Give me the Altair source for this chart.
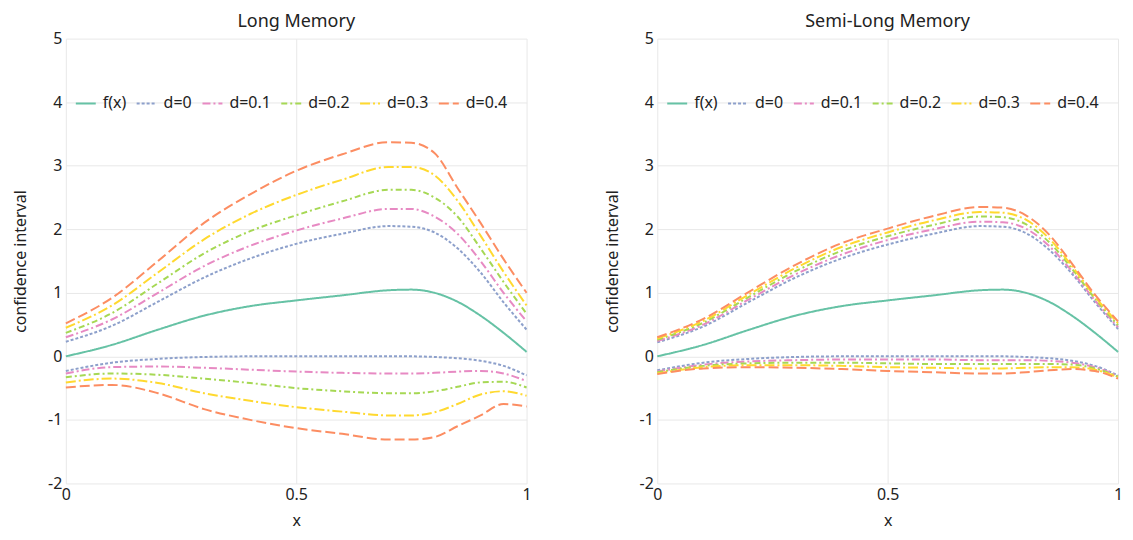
import altair as alt
import pandas as pd

xs = [0, 0.1, 0.2, 0.3, 0.4, 0.5, 0.6, 0.7, 0.75, 0.8, 0.85, 0.9, 0.95, 1.0]
f_x = [0, 0.18, 0.42, 0.64, 0.79, 0.88, 0.96, 1.04, 1.05, 1.0, 0.86, 0.64, 0.37, 0.07]

series_names = ["f(x)", "d=0", "d=0.1", "d=0.2", "d=0.3", "d=0.4"]
colors = ["#66c2a5", "#8da0cb", "#e78ac3", "#a6d854", "#ffd92f", "#fc8d62"]

# Long memory bounds
long_up_d0 = [0.23, 0.48, 0.86, 1.24, 1.54, 1.77, 1.93, 2.05, 2.04, 1.95, 1.70, 1.32, 0.85, 0.42]
long_up_d1 = [0.30, 0.58, 1.00, 1.42, 1.74, 1.98, 2.17, 2.32, 2.32, 2.20, 1.93, 1.50, 1.00, 0.55]
long_up_d2 = [0.37, 0.68, 1.15, 1.62, 1.97, 2.22, 2.44, 2.62, 2.62, 2.50, 2.20, 1.70, 1.17, 0.67]
long_up_d3 = [0.45, 0.80, 1.32, 1.84, 2.24, 2.54, 2.78, 2.98, 2.98, 2.85, 2.45, 1.90, 1.33, 0.80]
long_up_d4 = [0.52, 0.92, 1.50, 2.10, 2.55, 2.92, 3.18, 3.37, 3.36, 3.20, 2.65, 2.10, 1.53, 1.00]

long_lo_d0 = [-0.23, -0.10, -0.04, -0.01, 0, 0, 0, 0, 0, -0.01, -0.03, -0.07, -0.15, -0.30]
long_lo_d1 = [-0.27, -0.17, -0.16, -0.18, -0.21, -0.24, -0.26, -0.27, -0.27, -0.26, -0.24, -0.23, -0.27, -0.39]
long_lo_d2 = [-0.33, -0.27, -0.29, -0.35, -0.42, -0.50, -0.55, -0.58, -0.58, -0.55, -0.48, -0.41, -0.40, -0.49]
long_lo_d3 = [-0.41, -0.35, -0.42, -0.58, -0.70, -0.80, -0.87, -0.93, -0.93, -0.88, -0.75, -0.60, -0.55, -0.62]
long_lo_d4 = [-0.49, -0.45, -0.58, -0.83, -1.00, -1.13, -1.22, -1.31, -1.31, -1.27, -1.10, -0.93, -0.75, -0.79]

# Semi-long memory bounds
semi_up_d0 = [0.22, 0.47, 0.86, 1.24, 1.54, 1.76, 1.93, 2.05, 2.04, 1.94, 1.68, 1.30, 0.85, 0.43]
semi_up_d1 = [0.24, 0.50, 0.90, 1.29, 1.60, 1.83, 2.00, 2.12, 2.11, 2.01, 1.74, 1.34, 0.88, 0.46]
semi_up_d2 = [0.26, 0.53, 0.94, 1.34, 1.66, 1.89, 2.07, 2.20, 2.19, 2.08, 1.80, 1.38, 0.91, 0.49]
semi_up_d3 = [0.28, 0.56, 0.98, 1.39, 1.72, 1.95, 2.14, 2.27, 2.26, 2.15, 1.86, 1.42, 0.94, 0.52]
semi_up_d4 = [0.30, 0.59, 1.02, 1.44, 1.78, 2.01, 2.21, 2.35, 2.34, 2.22, 1.92, 1.46, 0.97, 0.55]

semi_lo_d0 = [-0.22, -0.10, -0.04, -0.01, 0, 0, 0, 0, 0, -0.01, -0.03, -0.07, -0.15, -0.30]
semi_lo_d1 = [-0.24, -0.13, -0.08, -0.06, -0.05, -0.05, -0.05, -0.06, -0.06, -0.06, -0.07, -0.10, -0.17, -0.31]
semi_lo_d2 = [-0.25, -0.15, -0.11, -0.10, -0.10, -0.11, -0.12, -0.12, -0.12, -0.12, -0.12, -0.13, -0.19, -0.32]
semi_lo_d3 = [-0.27, -0.17, -0.14, -0.14, -0.15, -0.17, -0.18, -0.19, -0.19, -0.18, -0.17, -0.17, -0.21, -0.33]
semi_lo_d4 = [-0.28, -0.19, -0.17, -0.18, -0.20, -0.23, -0.25, -0.27, -0.27, -0.25, -0.22, -0.20, -0.23, -0.35]

dashes = [[1, 0], [3, 2], [8, 3, 2, 3], [6, 3, 2, 3], [10, 3, 2, 3], [10, 4]]

FONT = "Noto Sans"
LABEL_EXPR = "datum.value < 0 ? '-' + format(-datum.value, '~g') : format(datum.value, '~g')"


def build_df(ups, los):
    rows = []
    for x, v in zip(xs, f_x):
        rows.append({"x": x, "v": v, "series": "f(x)", "line": "f"})
    for name, up, lo in zip(series_names[1:], ups, los):
        for x, v in zip(xs, up):
            rows.append({"x": x, "v": v, "series": name, "line": name + "_up"})
        for x, v in zip(xs, lo):
            rows.append({"x": x, "v": v, "series": name, "line": name + "_lo"})
    return pd.DataFrame(rows)


def legend():
    return alt.Legend(
        title=None, orient="none", direction="horizontal", legendX=9, legendY=54,
        symbolType="stroke", symbolSize=400, symbolStrokeWidth=2,
        labelFont=FONT, labelFontSize=16, labelColor="#222", labelOffset=6,
        columnPadding=6, padding=0,
    )


def panel(title, ups, los):
    df = build_df(ups, los)
    return alt.Chart(df).mark_line(interpolate="monotone", strokeWidth=2).encode(
        x=alt.X("x:Q", scale=alt.Scale(domain=[0, 1], nice=False),
                axis=alt.Axis(values=[0, 0.5, 1], title="x", labelFlush=False,
                              labelExpr=LABEL_EXPR, titlePadding=10, labelPadding=3)),
        y=alt.Y("v:Q", scale=alt.Scale(domain=[-2, 5], nice=False),
                axis=alt.Axis(values=[-2, -1, 0, 1, 2, 3, 4, 5], title="confidence interval",
                              labelFlush=False, labelExpr=LABEL_EXPR, titlePadding=19,
                              labelPadding=4)),
        color=alt.Color("series:N", scale=alt.Scale(domain=series_names, range=colors), legend=legend()),
        strokeDash=alt.StrokeDash("series:N", scale=alt.Scale(domain=series_names, range=dashes), legend=legend()),
        detail="line:N",
        order="x:Q",
    ).properties(width=462, height=446,
                 title=alt.TitleParams(title, offset=0))


left = panel("Long Memory",
             [long_up_d0, long_up_d1, long_up_d2, long_up_d3, long_up_d4],
             [long_lo_d0, long_lo_d1, long_lo_d2, long_lo_d3, long_lo_d4])
right = panel("Semi-Long Memory",
              [semi_up_d0, semi_up_d1, semi_up_d2, semi_up_d3, semi_up_d4],
              [semi_lo_d0, semi_lo_d1, semi_lo_d2, semi_lo_d3, semi_lo_d4])

chart = alt.hconcat(left, right, spacing=72).resolve_scale(
    color="independent", strokeDash="independent"
).properties(padding={"left": 4, "top": 4, "right": 2, "bottom": 4}).configure_view(
    stroke=None
).configure_axis(
    domain=False, ticks=False, grid=True, gridColor="#e8e8e8",
    labelFont=FONT, labelFontSize=16, labelColor="#222",
    titleFont=FONT, titleFontSize=16, titleFontWeight="normal", titleColor="#222",
).configure_title(
    font=FONT, fontSize=18, fontWeight="normal", color="#222",
)

chart.save("out.html", embed_options={"renderer": "svg", "actions": False})
